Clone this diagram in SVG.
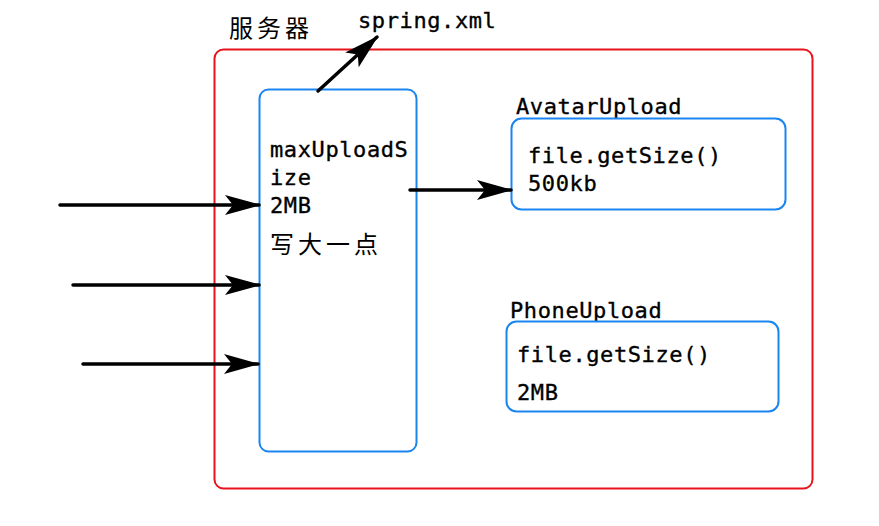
<svg xmlns="http://www.w3.org/2000/svg" width="879" height="526" viewBox="0 0 879 526">
<style>
.mono{font-family:"DejaVu Sans Mono","Liberation Mono",monospace;font-size:22px;fill:#000;letter-spacing:0.6px;stroke:#000;stroke-width:0.35}
.cjk{font-family:"Noto Sans CJK SC","Noto Sans CJK JP",sans-serif;font-size:24px;fill:#000;letter-spacing:4px}
.box{fill:#fff;stroke:#1a85f0;stroke-width:2}
</style>
<defs>
<marker id="ahb" markerWidth="36" markerHeight="20" refX="34" refY="10" orient="auto" markerUnits="userSpaceOnUse" viewBox="0 0 36 20">
<path d="M0,0 L36,10 L0,20 L8,10 Z" fill="#000"/>
</marker>
</defs>
<rect width="879" height="526" fill="#fff"/>
<g id="server">
<rect x="214.5" y="49.5" width="598" height="439" rx="9" fill="none" stroke="#e8141c" stroke-width="2"/>
<text class="cjk" x="229" y="37">服务器</text>
</g>
<g id="config">
<rect class="box" x="259.5" y="89.5" width="157" height="362" rx="9"/>
<text class="mono" x="270" y="157">maxUploadS</text>
<text class="mono" x="270" y="185">ize</text>
<text class="mono" x="270" y="213">2MB</text>
<text class="cjk" x="270" y="253">写大一点</text>
</g>
<g id="spring">
<text class="mono" x="358" y="28">spring.xml</text>
</g>
<g id="avatar">
<text class="mono" x="516" y="114">AvatarUpload</text>
<rect class="box" x="511.5" y="118.5" width="274" height="91" rx="10"/>
<text class="mono" x="528" y="163">file.getSize()</text>
<text class="mono" x="528" y="191">500kb</text>
</g>
<g id="phone">
<text class="mono" x="510" y="318">PhoneUpload</text>
<rect class="box" x="506.5" y="321.5" width="272" height="90" rx="10"/>
<text class="mono" x="517" y="362">file.getSize()</text>
<text class="mono" x="517" y="400">2MB</text>
</g>
<g id="connectors" stroke="#000" stroke-width="3.5" fill="none" stroke-linecap="round">
<line x1="60" y1="205" x2="259" y2="205" marker-end="url(#ahb)"/>
<line x1="73" y1="285" x2="259" y2="285" marker-end="url(#ahb)"/>
<line x1="83" y1="364" x2="258" y2="364" marker-end="url(#ahb)"/>
<line x1="410" y1="190" x2="511" y2="190" marker-end="url(#ahb)"/>
<line x1="318" y1="91" x2="377" y2="37" marker-end="url(#ahb)"/>
</g>
</svg>
